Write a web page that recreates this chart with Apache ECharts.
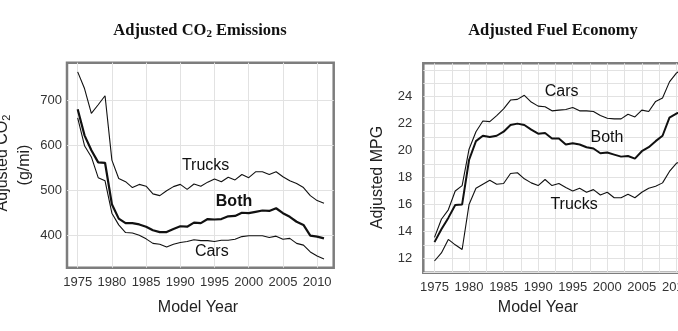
<!DOCTYPE html>
<html>
<head>
<meta charset="utf-8">
<script src="https://cdn.jsdelivr.net/npm/echarts@6/dist/echarts.min.js"></script>
<style>html,body{margin:0;padding:0;background:#fff}#c{width:678px;height:331px}</style>
</head>
<body>
<div id="c"></div>
<script>
const years = [1975,1976,1977,1978,1979,1980,1981,1982,1983,1984,1985,1986,1987,1988,1989,1990,1991,1992,1993,1994,1995,1996,1997,1998,1999,2000,2001,2002,2003,2004,2005,2006,2007,2008,2009,2010,2011];

const co2Trucks = [764,727,672,691,711,568,527,520,507,514,510,493,489,500,509,514,503,515,510,519,526,520,530,524,536,529,542,542,536,542,531,522,516,507,489,478,472];
const co2Both   = [681,623,590,563,562,470,438,428,428,425,420,412,408,408,415,421,420,429,428,437,436,437,443,444,451,450,453,456,455,461,450,442,431,424,400,398,394];
const co2Cars   = [662,600,575,529,522,450,424,407,406,401,393,383,381,375,381,385,387,391,389,389,387,390,390,392,398,400,400,400,396,399,392,394,383,379,364,355,348];

const mpgCars   = [13.55,14.9,15.6,17.0,17.4,20.1,21.4,22.2,22.15,22.6,23.1,23.75,23.8,24.1,23.6,23.3,23.25,22.95,23.0,23.05,23.2,22.95,22.95,22.9,22.6,22.4,22.35,22.35,22.7,22.5,23.0,22.9,23.65,23.9,25.1,25.75,26.1];
const mpgBoth   = [13.2,14.15,15.0,15.95,16.0,19.3,20.7,21.1,21.0,21.1,21.4,21.9,22.0,21.9,21.55,21.25,21.3,20.9,20.9,20.45,20.55,20.45,20.25,20.15,19.8,19.85,19.7,19.55,19.6,19.4,19.95,20.25,20.7,21.1,22.45,22.75,22.9];
const mpgTrucks = [11.8,12.4,13.4,13.0,12.65,16.0,17.2,17.5,17.8,17.5,17.55,18.3,18.35,17.9,17.6,17.4,17.85,17.4,17.55,17.25,17.0,17.2,16.9,17.1,16.7,16.9,16.5,16.5,16.75,16.5,16.9,17.2,17.35,17.6,18.45,19.05,19.3];

const yearTicks = [1975,1980,1985,1990,1995,2000,2005,2010];
const yearMinor = [1975,1977.5,1980,1982.5,1985,1987.5,1990,1992.5,1995,1997.5,2000,2002.5,2005,2007.5,2010];
const co2Ticks = [400,500,600,700];
const mpgTicks = [12,14,16,18,20,22,24];
const mpgMinor = [11,12,13,14,15,16,17,18,19,20,21,22,23,24,25,26];

// label anchors in data coordinates
const co2Labels = [
  {name:'Trucks', coord:[1993.7,556], bold:false},
  {name:'Both',   coord:[1997.85,476], bold:true},
  {name:'Cars',   coord:[1994.6,364], bold:false}
];
const mpgLabels = [
  {name:'Cars',   coord:[1993.4,24.37]},
  {name:'Both',   coord:[1999.95,21.0]},
  {name:'Trucks', coord:[1995.2,15.96]}
];

const pairs = (arr) => years.map((y,i)=>[y,arr[i]]);
const SANS = 'Arial, "Liberation Sans", Helvetica, sans-serif';
const SERIF = '"Liberation Serif", "Times New Roman", serif';
const gridLine = {show:true, lineStyle:{color:'#e2e2e2', width:1}};

function xAxisCfg(idx, min, max, minor) {
  return {
    gridIndex: idx, type:'value', min:min, max:max,
    axisLine:{show:false},
    axisTick:{show:false, customValues: minor},
    axisLabel:{customValues: yearTicks, fontSize:13, color:'#333', fontFamily:SANS, margin:8,
      hideOverlap:false, formatter: v => String(v)},
    splitLine: gridLine
  };
}
function yAxisCfg(idx, min, max, labels, minor, margin) {
  return {
    gridIndex: idx, type:'value', min:min, max:max,
    axisLine:{show:false},
    axisTick:{show:false, customValues: minor},
    axisLabel:{customValues: labels, fontSize:13, color:'#333', fontFamily:SANS, margin:margin,
      hideOverlap:false, formatter: v => String(v)},
    splitLine: gridLine
  };
}
function lineSeries(xi, data, w, labels) {
  const s = {
    type:'line', xAxisIndex:xi, yAxisIndex:xi, data:pairs(data),
    showSymbol:false, symbol:'none', silent:true,
    lineStyle:{color:'#111', width:w}, animation:false
  };
  if (labels) {
    s.markPoint = {
      symbol:'circle', symbolSize:0, animation:false, silent:true,
      data: [{coord: labels.coord, label:{show:true, position:'inside', formatter: labels.name,
        fontSize:16, fontFamily:SANS, color:'#111', fontWeight: labels.bold ? 'bold' : 'normal'}}]
    };
  }
  return s;
}

const chart = echarts.init(document.getElementById('c'), null, {renderer:'canvas'});
chart.setOption({
  animation:false,
  backgroundColor:'#fff',
  grid:[
    {left:67, top:62.7, width:266.7, height:205, show:true, borderColor:'#7d7d7d', borderWidth:2.5,
     backgroundColor:'#fff', containLabel:false, outerBoundsMode:'none'},
    {left:423.3, top:63.3, width:270, height:209.4, show:true, borderColor:'#7d7d7d', borderWidth:2.5,
     backgroundColor:'#fff', containLabel:false, outerBoundsMode:'none'}
  ],
  xAxis:[
    xAxisCfg(0, 1973.44, 2012.42, yearTicks),
    xAxisCfg(1, 1973.38, 2012.45, yearMinor)
  ],
  yAxis:[
    yAxisCfg(0, 328.9, 784.4, co2Ticks, co2Ticks, 5),
    yAxisCfg(1, 10.93, 26.48, mpgTicks, mpgMinor, 11)
  ],
  series:[
    lineSeries(0, co2Trucks, 1.1, co2Labels[0]),
    lineSeries(0, co2Both, 2.2, co2Labels[1]),
    lineSeries(0, co2Cars, 1.1, co2Labels[2]),
    lineSeries(1, mpgCars, 1.1, mpgLabels[0]),
    lineSeries(1, mpgBoth, 2, mpgLabels[1]),
    lineSeries(1, mpgTrucks, 1.1, mpgLabels[2])
  ],
  graphic:[
    {type:'text', x:200, y:31, silent:true, style:{
      text:'{t|Adjusted CO}{s|2}{t| Emissions}', align:'center', verticalAlign:'middle',
      rich:{t:{font:'bold 16.5px '+SERIF, fill:'#111'}, s:{font:'bold 11px '+SERIF, fill:'#111', padding:[7,0,0,0]}}}},
    {type:'text', x:553, y:31, silent:true, style:{
      text:'Adjusted Fuel Economy', align:'center', verticalAlign:'middle',
      font:'bold 16.5px '+SERIF, fill:'#111'}},
    {type:'text', x:198, y:308, silent:true, style:{
      text:'Model Year', align:'center', verticalAlign:'middle', font:'16px '+SANS, fill:'#222'}},
    {type:'text', x:538, y:308, silent:true, style:{
      text:'Model Year', align:'center', verticalAlign:'middle', font:'16px '+SANS, fill:'#222'}},
    {type:'text', x:378, y:177.5, rotation:Math.PI/2, silent:true, style:{
      text:'Adjusted MPG', align:'center', verticalAlign:'middle', font:'16px '+SANS, fill:'#222'}},
    {type:'text', x:3, y:163, rotation:Math.PI/2, silent:true, style:{
      text:'{t|Adjusted CO}{s|2}', align:'center', verticalAlign:'middle',
      rich:{t:{font:'16px '+SANS, fill:'#222'}, s:{font:'11px '+SANS, fill:'#222', padding:[7,0,0,0]}}}},
    {type:'text', x:25, y:165, rotation:Math.PI/2, silent:true, style:{
      text:'(g/mi)', align:'center', verticalAlign:'middle', font:'16px '+SANS, fill:'#222'}}
  ]
});
</script>
</body>
</html>
